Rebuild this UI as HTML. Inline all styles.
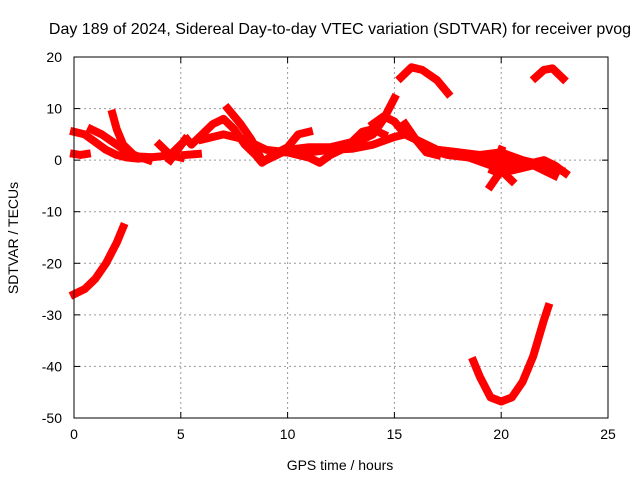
<!DOCTYPE html>
<html><head><meta charset="utf-8"><style>
body{margin:0;background:#fff}
svg{display:block;font-family:"Liberation Sans",sans-serif;font-size:14px}
</style></head><body>
<svg id="c" width="640" height="480">
<text x="340" y="34" text-anchor="middle" style="font-size:16px">Day 189 of 2024, Sidereal Day-to-day VTEC variation (SDTVAR) for receiver pvog</text>
<text x="340" y="470" text-anchor="middle">GPS time / hours</text>
<text transform="translate(18,238) rotate(-90)" text-anchor="middle">SDTVAR / TECUs</text>
<g id="grid"></g><g id="marks"></g><g id="axes"></g>
</svg>
<script>
const xTicks=[0,5,10,15,20,25];
const yTicks=[20,10,0,-10,-20,-30,-40,-50];
const trackA=[[0,1.2],[0.3,1.0],[0.6,1.2]];
const trackB=[[0,5.5],[0.5,5],[1,3.5],[1.5,2],[2,1],[2.5,0.5],[3,0.3],[3.5,0.5],[4,0.7],[4.5,1],[5,3]];
const trackC=[[0.8,6],[1.3,5],[2,3],[2.5,1.5],[3,0.7],[3.5,0.6]];
const trackD=[[1.8,9],[2.0,6],[2.3,3],[2.8,1],[3.5,0]];
const trackE=[[4,3],[4.5,1],[5,0.5]];
const trackF=[[4.5,0],[5.2,4]];
const trackG=[[5.3,4],[5.5,3],[6,5],[6.5,7],[7,8],[7.5,6],[8,3],[8.5,1],[8.8,-0.5],[9.3,1],[10,2.5],[10.5,5],[11,5.5]];
const trackH=[[5.2,1],[5.8,1.2]];
const trackI=[[6,4],[7,5],[8,4],[9,2],[10,1.5],[11,0.5],[11.5,-0.5],[12,1],[13,3],[14,5],[14.5,8],[15,12]];
const trackJ=[[7.2,10],[7.8,7],[8.3,4],[8.8,0]];
const trackK=[[9,0],[10,2],[11,2.5],[12,2.5],[13,3.5],[13.5,5.5],[14,6],[14.5,5]];
const trackL=[[10,1.5],[11,1.5],[12,2],[13,2.2],[14,3],[15,4.5],[15.5,5],[16,4],[16.5,3],[17,2],[18,1.5],[19,0.5],[20,0],[21,-1],[22,0],[22.5,-1],[23,-2.5]];
const trackM=[[14,7],[14.5,8.5],[15,7.5],[15.5,5],[16,4],[17,2],[18,1.5],[19,1],[20,1.5],[21,0],[22,-1],[22.8,-2]];
const trackN=[[15.3,16],[15.8,18],[16.3,17.5],[17,15.5],[17.5,13]];
const trackO=[[15.5,7],[16,4],[16.5,1.5],[17,1]];
const trackP=[[16.7,2],[17.5,1],[18.5,0.5],[19.5,-1],[20.5,-2],[21.5,-1],[22.5,-3]];
const trackQ=[[19.5,-5],[20,-2],[20.5,-4]];
const trackR=[[19.6,-2],[20,2]];
const trackS=[[21.6,16],[22,17.5],[22.4,17.8],[22.9,15.8]];
const trackT=[[0,-26],[0.5,-25],[1,-23],[1.5,-20],[2,-16],[2.3,-13]];
const trackU=[[18.7,-39],[19,-42],[19.5,-46],[20,-46.8],[20.5,-46],[21,-43],[21.5,-38],[22,-31],[22.2,-28.5]];
const tracks=[trackA,trackB,trackC,trackD,trackE,trackF,trackG,trackH,trackI,trackJ,trackK,trackL,trackM,trackN,trackO,trackP,trackQ,trackR,trackS,trackT,trackU];
const L=74,R=608,T=57,B=418;
const xs=h=>L+(h-0)/25*(R-L);
const ys=v=>B-(v+50)/70*(B-T);
const NS="http://www.w3.org/2000/svg";
const mk=(t,a,p)=>{const e=document.createElementNS(NS,t);for(const k in a)e.setAttribute(k,a[k]);p.appendChild(e);return e;};
const grid=document.getElementById('grid'),axes=document.getElementById('axes'),marks=document.getElementById('marks');
xTicks.forEach(t=>{const x=xs(t);
 if(t>0&&t<25){const g=mk('line',{x1:x,x2:x,y1:T,y2:B,stroke:'#999','stroke-dasharray':'2,3'},grid);
 
 }
 mk('line',{x1:x,x2:x,y1:B,y2:B-6,stroke:'#000'},axes);mk('line',{x1:x,x2:x,y1:T,y2:T+6,stroke:'#000'},axes);
 const l=mk('text',{x:x,y:B+21,'text-anchor':'middle'},axes);l.textContent=t;
 
 });
yTicks.forEach(t=>{const y=ys(t);
 if(t<20&&t>-50){const g=mk('line',{x1:L,x2:R,y1:y,y2:y,stroke:'#999','stroke-dasharray':'2,3'},grid);
 
 }
 mk('line',{x1:L,x2:L+6,y1:y,y2:y,stroke:'#000'},axes);mk('line',{x1:R,x2:R-6,y1:y,y2:y,stroke:'#000'},axes);
 const l=mk('text',{x:L-12,y:y+5,'text-anchor':'end'},axes);l.textContent=t;
 
 });
const fr=mk('rect',{x:L,y:T,width:R-L,height:B-T,fill:'none',stroke:'#000'},axes);


tracks.forEach((tr,i)=>{
 const p=mk('polyline',{points:tr.map(d=>xs(d[0])+','+ys(d[1])).join(' '),fill:'none',stroke:'#f00','stroke-width':8,'stroke-linejoin':'round','stroke-linecap':'square'},marks);
 
 
});
</script>
</body></html>
